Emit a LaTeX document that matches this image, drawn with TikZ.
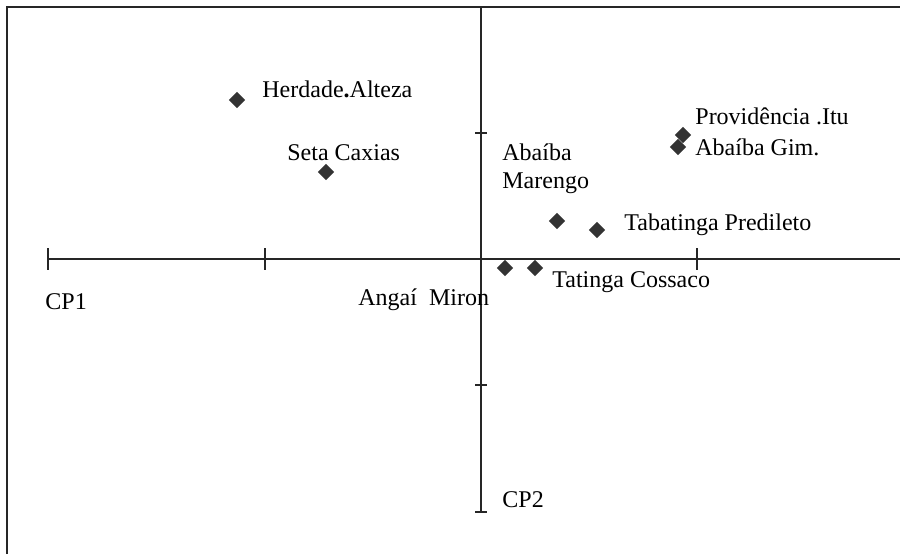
\documentclass[tikz,border=0pt]{standalone}
\usepackage{fontspec}
\setmainfont{Liberation Serif}
\usetikzlibrary{shapes.geometric}
\tikzset{
  pt/.style={diamond,fill=black!80,draw=none,inner sep=0pt,minimum size=8.2pt},
  lbl/.style={anchor=west,inner sep=0pt,font=\fontsize{12}{14}\selectfont,align=left},
  axis/.style={line width=0.55pt,black!85}
}

\begin{document}
\begin{tikzpicture}[x=0.5pt,y=-0.5pt]
\useasboundingbox (0,0) rectangle (900,554);
% frame
\draw[axis] (7,554) -- (7,7) -- (900,7);
% axes
\coordinate (xl) at (48,259);
\coordinate (xr) at (900,259);
\coordinate (yt) at (481,7);
\coordinate (yb) at (481,512);
\draw[axis] (xl) -- (xr);
\draw[axis] (yt) -- (yb);
\foreach \x in {48,265,481,697} {
  \draw[axis] (\x,248) -- (\x,270);
}
\foreach \y in {133,385,512} {
  \draw[axis] (475,\y) -- (487,\y);
}
\node[lbl] (cp1) at (45,302) {CP1};
\node[lbl] (cp2) at (502,500) {CP2};
% points
\node[pt] (herdade) at (237,100) {};
\node[pt] (seta) at (326,172) {};
\node[pt] (provid) at (683,135) {};
\node[pt] (gim) at (678,147) {};
\node[pt] (marengo) at (557,221) {};
\node[pt] (tabat) at (597,230) {};
\node[pt] (angai) at (505,268) {};
\node[pt] (tating) at (535,268) {};
% labels
\node[lbl] (herdadel) at (262,89) {Herdade\textbf{.}Alteza};
\node[lbl] (setal) at (287,153) {Seta Caxias};
\node[lbl] (providl) at (695,116) {Providência .Itu};
\node[lbl] (giml) at (695,147) {Abaíba Gim.};
\node[lbl] (marengol) at (502,169) {Abaíba\\Marengo};
\node[lbl] (tabatl) at (624,225) {Tabatinga Predileto};
\node[lbl] (tatingl) at (552,282) {Tatinga Cossaco};
\node[lbl] (angail) at (358,300) {Angaí\ \ Miron};
\end{tikzpicture}
\end{document}
